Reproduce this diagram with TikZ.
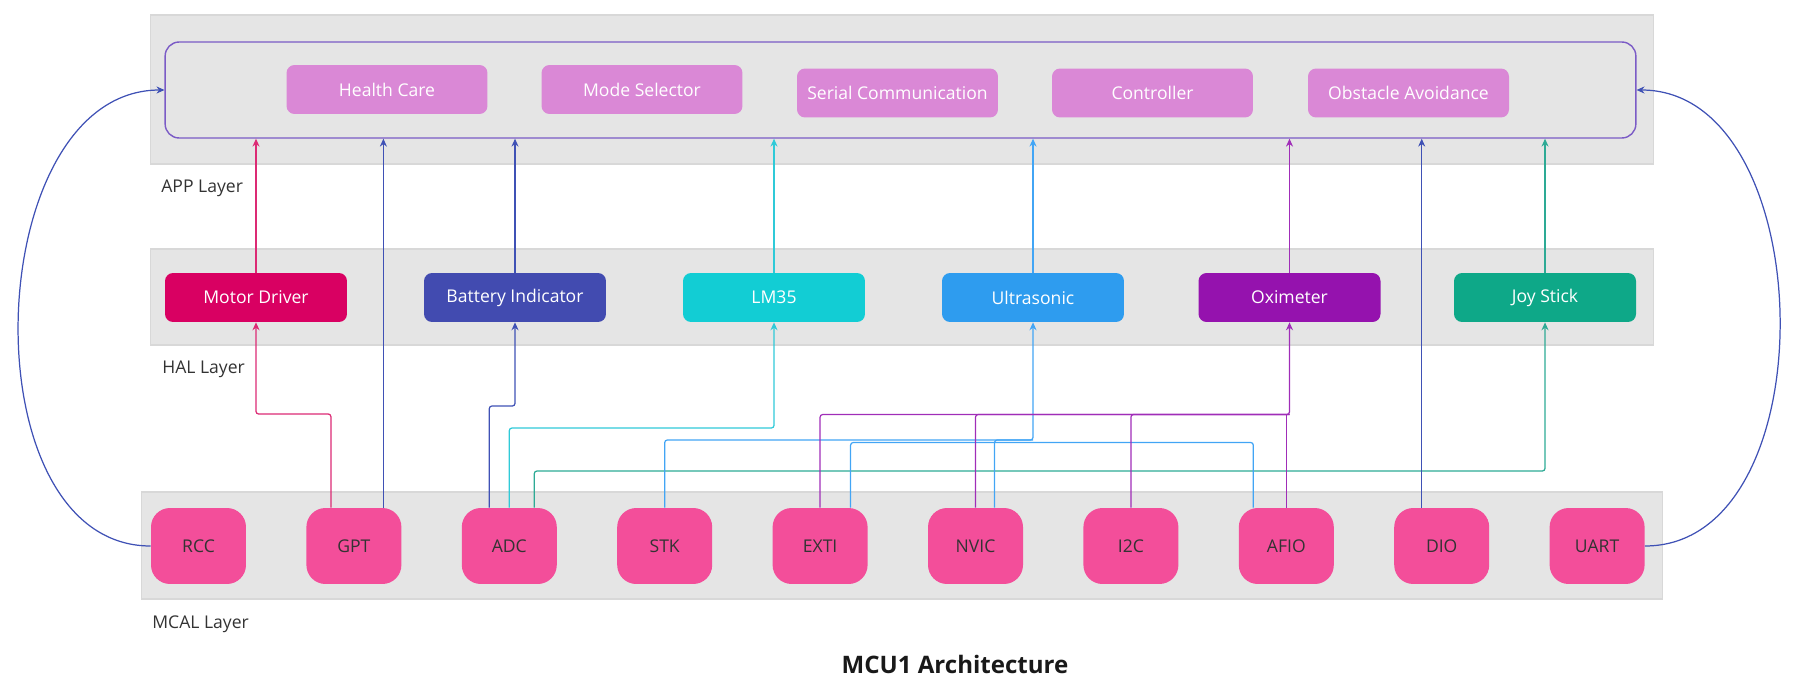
\documentclass[tikz,border=0pt]{standalone}
\usepackage{fontspec}
\setmainfont{Open Sans}
\usepackage{tikz}
\usetikzlibrary{arrows.meta}

\definecolor{bandgray}{HTML}{E5E5E5}
\definecolor{bandline}{HTML}{D8D8D8}
\definecolor{appfill}{HTML}{DA88D6}
\definecolor{appline}{HTML}{7B5BC6}
\definecolor{mdcol}{HTML}{D90062}
\definecolor{bicol}{HTML}{424BB0}
\definecolor{lmcol}{HTML}{12CDD4}
\definecolor{uscol}{HTML}{2E9CEF}
\definecolor{oxcol}{HTML}{9512AE}
\definecolor{jscol}{HTML}{0EA888}
\definecolor{mcalcol}{HTML}{F34E9A}
\definecolor{wirered}{HTML}{DC2A74}
\definecolor{wireblue}{HTML}{3F51B5}
\definecolor{wirecyan}{HTML}{2FCAD8}
\definecolor{wiresky}{HTML}{42A5F5}
\definecolor{wirepurple}{HTML}{A02DB8}
\definecolor{wiregreen}{HTML}{2DAA95}
\definecolor{txtgray}{HTML}{333333}

\begin{document}
\begin{tikzpicture}[x=0.02cm,y=-0.02cm,font=\fontsize{10}{12}\selectfont]
		\useasboundingbox (0,0) rectangle (1801,686);

		\begin{scope}[every node/.style={rectangle,fill=bandgray,draw=bandline,line width=0.6pt,inner sep=0pt}]
			\node[minimum width=30.08cm,minimum height=2.98cm] (appband) at (902,89.5) {};
			\node[minimum width=30.08cm,minimum height=1.92cm] (halband) at (902,297) {};
			\node[minimum width=30.44cm,minimum height=2.14cm] (mcalband) at (902,545.5) {};
		\end{scope}

		\begin{scope}[every node/.style={anchor=west,text=txtgray,inner sep=0pt}]
			\node (appl) at (161,188) {APP Layer};
			\node (hall) at (162,369) {HAL Layer};
			\node (mcall) at (152,624) {MCAL Layer};
		\end{scope}

		\node[rectangle,rounded corners=0.28cm,draw=appline,line width=0.8pt,minimum width=29.42cm,minimum height=1.92cm] (app) at (900.5,90) {};

		\begin{scope}[every node/.style={rectangle,rounded corners=0.16cm,fill=appfill,text=white,minimum width=4.02cm,minimum height=0.98cm,inner sep=0pt}]
			\node (hc) at (387,89.5) {Health Care};
			\node (ms) at (642,89.5) {Mode Selector};
			\node (sc) at (897.5,93) {Serial Communication};
			\node (ctl) at (1152.5,93) {Controller};
			\node (oa) at (1408.5,93) {Obstacle Avoidance};
		\end{scope}

		\begin{scope}[every node/.style={rectangle,rounded corners=0.16cm,text=white,minimum width=3.64cm,minimum height=0.98cm,inner sep=0pt}]
			\node[fill=mdcol] (md) at (256,297.5) {Motor Driver};
			\node[fill=bicol] (bi) at (515,297.5) {Battery Indicator};
			\node[fill=lmcol] (lm) at (774,297.5) {LM35};
			\node[fill=uscol] (us) at (1033,297.5) {Ultrasonic};
			\node[fill=oxcol] (ox) at (1289.5,297.5) {Oximeter};
			\node[fill=jscol] (js) at (1545,297.5) {Joy Stick};
		\end{scope}

		\begin{scope}[every node/.style={rectangle,rounded corners=0.38cm,fill=mcalcol,text=txtgray,minimum width=1.9cm,minimum height=1.52cm,inner sep=0pt}]
			\node (rcc) at (198.5,546) {RCC};
			\node (gpt) at (353.9,546) {GPT};
			\node (adc) at (509.3,546) {ADC};
			\node (stk) at (664.7,546) {STK};
			\node (exti) at (820.1,546) {EXTI};
			\node (nvic) at (975.5,546) {NVIC};
			\node (iic) at (1130.9,546) {I2C};
			\node (afio) at (1286.3,546) {AFIO};
			\node (dio) at (1441.7,546) {DIO};
			\node (uart) at (1597.1,546) {UART};
		\end{scope}

		\node[font=\fontsize{13.7}{16}\selectfont\bfseries,text=black!90] (title) at (955,664) {MCU1 Architecture};

		\coordinate (lvlbi) at (0,406);
		\coordinate (lvlmd) at (0,414);
		\coordinate (lvlox) at (0,414.5);
		\coordinate (lvllm) at (0,428);
		\coordinate (lvlus) at (0,440);
		\coordinate (lvlusb) at (0,442.5);
		\coordinate (lvljs) at (0,471);

		\begin{scope}[>={Stealth[length=4.5pt,width=4pt]},line width=0.7pt,rounded corners=1.5pt]
			\draw[->,wirered] ([shift={(-23,0)}]gpt.north) |- (md |- lvlmd) -- (md);
			\draw[->,wireblue] ([shift={(-20,0)}]adc.north) |- (bi |- lvlbi) -- (bi);
			\draw[->,wirecyan] (adc.north) |- (lm |- lvllm) -- (lm);
			\draw[->,wiregreen] ([shift={(25,0)}]adc.north) |- (js |- lvljs) -- (js);

			\draw[->,wiresky] (stk.north) |- (us |- lvlus) -- (us);
			\draw[wiresky] ([shift={(30.5,0)}]exti.north) |- (us |- lvlusb);
			\draw[wiresky] ([shift={(19,0)}]nvic.north) |- (us |- lvlus);
			\draw[wiresky] ([shift={(-33,0)}]afio.north) |- (us |- lvlusb);

			\draw[->,wirepurple] (exti.north) |- (ox |- lvlox) -- (ox);
			\draw[wirepurple] (nvic.north) |- (ox |- lvlox);
			\draw[wirepurple] (iic.north) |- (ox |- lvlox);
			\draw[wirepurple] (afio.north) -- (afio.north |- lvlox);

			\draw[->,wirered] (md) -- (md |- app.south);
			\draw[->,wireblue] ([shift={(29.5,0)}]gpt.north) coordinate (gptup) -- (gptup |- app.south);
			\draw[->,wireblue] (bi) -- (bi |- app.south);
			\draw[->,wirecyan] (lm) -- (lm |- app.south);
			\draw[->,wiresky] (us) -- (us |- app.south);
			\draw[->,wirepurple] (ox) -- (ox |- app.south);
			\draw[->,wireblue] ([shift={(-20,0)}]dio.north) coordinate (dioup) -- (dioup |- app.south);
			\draw[->,wiregreen] (js) -- (js |- app.south);

			\draw[->,wireblue] (rcc.west) .. controls +(-185,0) and +(-185,0) .. (app.west);
			\draw[->,wireblue] (uart.east) .. controls +(185,0) and +(185,0) .. (app.east);
		\end{scope}
\end{tikzpicture}
\end{document}
